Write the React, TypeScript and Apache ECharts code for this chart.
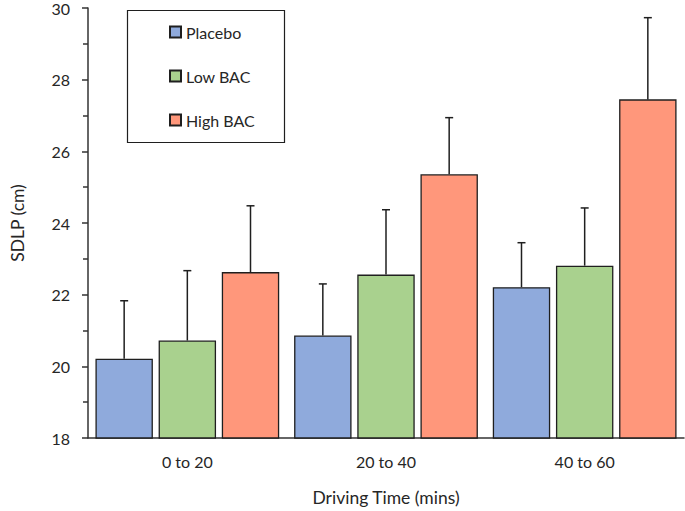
import React, { useEffect, useRef } from "react";
import * as echarts from "echarts";

const categories = ["0 to 20", "20 to 40", "40 to 60"];
const seriesNames = ["Placebo", "Low BAC", "High BAC"];
const placeboMean = [20.21, 20.86, 22.21];
const lowMean = [20.72, 22.56, 22.81];
const highMean = [22.63, 25.36, 27.45];
const placeboErr = [1.62, 1.44, 1.24];
const lowErr = [1.95, 1.81, 1.61];
const highErr = [1.85, 1.58, 2.28];
const yTicks = [18, 20, 22, 24, 26, 28, 30];

const colors = ["#8FAADC", "#A9D18E", "#FF977B"];
const FONT = "Lato";
const TEXT = "#262626";
const BAR_CAT_GAP = 0.075;
const BAR_GAP = 0.1;

export default function App() {
  const ref = useRef<HTMLDivElement>(null);
  useEffect(() => {
    if (!ref.current) return;
    const chart = echarts.init(ref.current, undefined, { renderer: "svg" });
    const means = [placeboMean, lowMean, highMean];
    const errs = [placeboErr, lowErr, highErr];

    const barSeries = seriesNames.map((name, i) => ({
      name,
      type: "bar",
      data: means[i],
      barGap: BAR_GAP * 100 + "%",
      barCategoryGap: BAR_CAT_GAP * 100 + "%",
      itemStyle: { color: colors[i], borderColor: "#1f1f1f", borderWidth: 1.3 },
      z: 2,
    }));

    const errSeries = seriesNames.map((name, i) => ({
      name: name + " err",
      type: "custom",
      z: 3,
      data: means[i].map((m, j) => [j, m, m + errs[i][j]]),
      renderItem: (params: any, api: any) => {
        const cat = api.value(0);
        const lo = api.coord([cat, api.value(1)]);
        const hi = api.coord([cat, api.value(2)]);
        const band = api.size([1, 0])[0];
        const bw = (band * (1 - BAR_CAT_GAP)) / (3 + 2 * BAR_GAP);
        const x = lo[0] + (i - 1) * bw * (1 + BAR_GAP);
        const style = { stroke: "#1f1f1f", lineWidth: 1.5 };
        return {
          type: "group",
          children: [
            { type: "line", shape: { x1: x, y1: lo[1], x2: x, y2: hi[1] }, style },
            { type: "line", shape: { x1: x - 4, y1: hi[1], x2: x + 4, y2: hi[1] }, style },
          ],
        };
      },
      tooltip: { show: false },
    }));

    chart.setOption({
      animation: false,
      textStyle: { fontFamily: FONT },
      grid: { left: 71, right: 1, top: 7, bottom: 69, containLabel: false },
      graphic: [
        {
          type: "rect",
          shape: { x: 127.5, y: 10.5, width: 157, height: 132 },
          style: { fill: "none", stroke: "#1f1f1f", lineWidth: 1.2 },
          z: 10,
        },
      ],
      legend: {
        data: seriesNames,
        orient: "vertical",
        left: 169,
        top: 24,
        padding: 0,
        itemWidth: 11,
        itemHeight: 11,
        itemGap: 28,
        icon: "rect",
        textStyle: { fontFamily: FONT, fontSize: 16, color: TEXT, lineHeight: 16 },
      },
      xAxis: {
        type: "category",
        data: categories,
        axisLine: { lineStyle: { color: "#333", width: 1.5 } },
        axisTick: { alignWithLabel: true, length: 5, lineStyle: { color: "#333", width: 1.5 } },
        axisLabel: { fontFamily: FONT, fontSize: 16, color: TEXT, margin: 15 },
        name: "Driving Time (mins)",
        nameLocation: "middle",
        nameGap: 50,
        nameTextStyle: { fontFamily: FONT, fontSize: 17.5, color: TEXT },
      },
      yAxis: {
        type: "value",
        min: yTicks[0],
        max: yTicks[yTicks.length - 1],
        interval: 2,
        axisLine: { show: true, lineStyle: { color: "#333", width: 1.5 } },
        axisTick: { show: true, length: 6, lineStyle: { color: "#333", width: 1.5 } },
        minorTick: { show: true, splitNumber: 2, length: 5, lineStyle: { color: "#333", width: 1.5 } },
        splitLine: { show: false },
        axisLabel: { fontFamily: FONT, fontSize: 16, color: TEXT, margin: 18 },
        name: "SDLP (cm)",
        nameLocation: "middle",
        nameGap: 62,
        nameTextStyle: { fontFamily: FONT, fontSize: 17.5, color: TEXT },
      },
      series: [...barSeries, ...errSeries],
    });
    return () => chart.dispose();
  }, []);
  return (
    <div
      ref={ref}
      style={{ position: "fixed", left: 0, top: 0, width: 685, height: 511, background: "#fff" }}
    />
  );
}
